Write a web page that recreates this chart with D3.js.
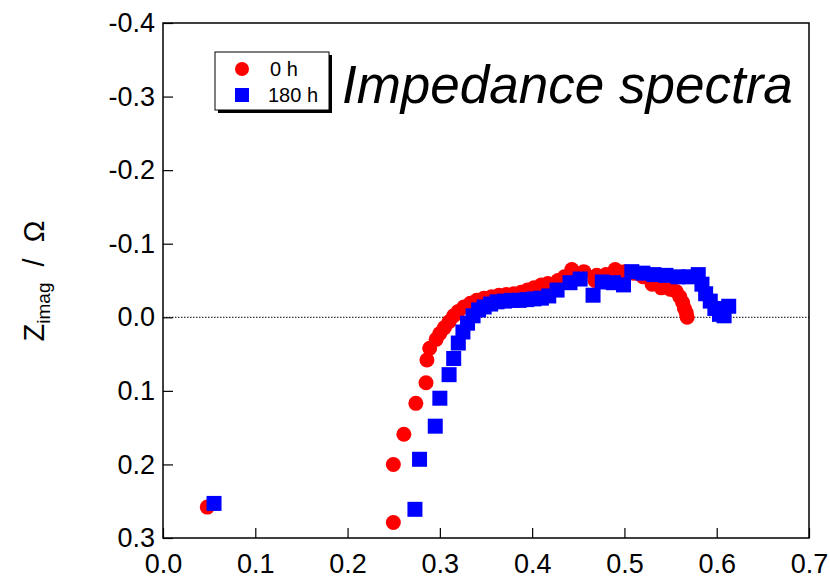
<!DOCTYPE html>
<html>
<head>
<meta charset="utf-8">
<script src="https://cdn.jsdelivr.net/npm/d3@7"></script>
<style>
  html, body { margin: 0; padding: 0; background: #fff; }
  svg { display: block; }
  text { font-family: "Liberation Sans", Arial, Helvetica, sans-serif; }
</style>
</head>
<body>
<svg id="chart" width="830" height="579"></svg>
<script>
// Impedance spectra (Nyquist plot) at 0 h and 180 h.
// Each point: [Z_real (Ω), Z_imag (Ω)] — the y axis runs from -0.4 (top) to 0.3 (bottom).
const seriesNames = ["0 h", "180 h"];

const data0h = [
  [0.048, 0.258], [0.2496, 0.279], [0.2496, 0.200], [0.261, 0.159],
  [0.274, 0.117], [0.285, 0.089], [0.286, 0.058], [0.289, 0.042],
  [0.296, 0.030], [0.300, 0.022], [0.305, 0.014], [0.310, 0.006],
  [0.315, -0.002], [0.320, -0.008], [0.326, -0.014], [0.333, -0.019],
  [0.340, -0.023], [0.348, -0.026], [0.356, -0.028], [0.364, -0.030],
  [0.372, -0.031], [0.380, -0.032], [0.388, -0.034], [0.395, -0.037],
  [0.402, -0.040], [0.410, -0.044], [0.417, -0.046], [0.428, -0.050],
  [0.435, -0.055], [0.443, -0.065], [0.456, -0.062], [0.470, -0.057],
  [0.468, -0.050], [0.480, -0.058], [0.490, -0.065], [0.500, -0.062],
  [0.510, -0.060], [0.520, -0.055], [0.530, -0.045], [0.540, -0.040],
  [0.550, -0.038], [0.556, -0.035], [0.560, -0.028], [0.563, -0.020],
  [0.565, -0.012], [0.567, -0.006], [0.568, 0.000]
];

const data180h = [
  [0.0553, 0.253], [0.273, 0.261], [0.278, 0.193], [0.295, 0.148],
  [0.300, 0.110], [0.310, 0.078], [0.315, 0.056], [0.320, 0.035],
  [0.325, 0.020], [0.330, 0.008], [0.336, -0.002], [0.342, -0.010],
  [0.348, -0.014], [0.355, -0.018], [0.362, -0.021], [0.370, -0.022],
  [0.378, -0.023], [0.386, -0.023], [0.394, -0.024], [0.402, -0.025],
  [0.410, -0.026], [0.418, -0.029], [0.427, -0.037], [0.441, -0.047],
  [0.452, -0.052], [0.466, -0.030], [0.476, -0.048], [0.488, -0.047],
  [0.499, -0.044], [0.508, -0.062], [0.520, -0.060], [0.532, -0.058],
  [0.545, -0.057], [0.558, -0.055], [0.570, -0.055], [0.580, -0.058],
  [0.584, -0.045], [0.588, -0.032], [0.593, -0.022], [0.598, -0.012],
  [0.603, -0.004], [0.608, -0.002], [0.613, -0.015]
];

const xTicks = [0.0, 0.1, 0.2, 0.3, 0.4, 0.5, 0.6, 0.7];
const yTicks = [-0.4, -0.3, -0.2, -0.1, 0.0, 0.1, 0.2, 0.3];

const svg = d3.select("#chart");
const W = 830, H = 579;
const margin = { left: 163, top: 23, right: 21, bottom: 41 };

const x = d3.scaleLinear().domain([0, 0.7]).range([margin.left, W - margin.right]);
const y = d3.scaleLinear().domain([-0.4, 0.3]).range([margin.top, H - margin.bottom]);

const fmt = d3.formatLocale({ decimal: ".", thousands: ",", grouping: [3], currency: ["", ""], minus: "-" }).format(".1f");

// zero reference line (dotted)
svg.append("line")
  .attr("x1", x(0)).attr("x2", x(0.7))
  .attr("y1", y(0)).attr("y2", y(0))
  .attr("stroke", "#000").attr("stroke-width", 1)
  .attr("stroke-dasharray", "1.5,1.5");

// axes with inward ticks
const yAxis = d3.axisLeft(y).tickValues(yTicks).tickFormat(fmt)
  .tickSizeInner(-10).tickSizeOuter(0).tickPadding(8);
const xAxis = d3.axisBottom(x).tickValues(xTicks).tickFormat(fmt)
  .tickSizeInner(-10).tickSizeOuter(0).tickPadding(16);

const gy = svg.append("g").attr("transform", `translate(${margin.left},0)`).call(yAxis);
const gx = svg.append("g").attr("transform", `translate(0,${H - margin.bottom})`).call(xAxis);
[gx, gy].forEach(g => {
  g.select(".domain").remove();
  g.selectAll(".tick line").attr("stroke", "#000").attr("stroke-width", 1.2);
  g.selectAll(".tick text").attr("font-size", 27).attr("fill", "#000")
    .attr("font-family", "'Liberation Sans', Arial, sans-serif");
});

// plot frame
svg.append("rect")
  .attr("x", x(0)).attr("y", y(-0.4))
  .attr("width", x(0.7) - x(0)).attr("height", y(0.3) - y(-0.4))
  .attr("fill", "none").attr("stroke", "#000").attr("stroke-width", 1.5);

// data markers
const size = 15;
svg.append("g").selectAll("circle").data(data0h).join("circle")
  .attr("cx", d => x(d[0])).attr("cy", d => y(d[1]))
  .attr("r", size / 2).attr("fill", "#ff0000");

svg.append("g").selectAll("rect").data(data180h).join("rect")
  .attr("x", d => x(d[0]) - size / 2).attr("y", d => y(d[1]) - size / 2)
  .attr("width", size).attr("height", size).attr("fill", "#0000ff");

// y axis title: Z_imag / Ω
const yt = svg.append("text")
  .attr("transform", "translate(44,281) rotate(-90)")
  .attr("text-anchor", "middle").attr("font-size", 29).attr("fill", "#000");
yt.append("tspan").text("Z");
yt.append("tspan").attr("font-size", 19).attr("dy", 6).text("imag");
yt.append("tspan").attr("dy", -6).attr("xml:space", "preserve").text("\u00a0\u00a0/\u00a0\u00a0Ω");

// legend with drop shadow
const lg = svg.append("g");
const lx = 215, ly = 52, lw = 114, lh = 58;
lg.append("rect").attr("x", lx + 3).attr("y", ly + 3).attr("width", lw).attr("height", lh).attr("fill", "#000");
lg.append("rect").attr("x", lx).attr("y", ly).attr("width", lw).attr("height", lh)
  .attr("fill", "#fff").attr("stroke", "#000").attr("stroke-width", 1);
lg.append("circle").attr("cx", lx + 27).attr("cy", ly + 17).attr("r", 7).attr("fill", "#ff0000");
lg.append("rect").attr("x", lx + 20).attr("y", ly + 36).attr("width", 14).attr("height", 14).attr("fill", "#0000ff");
lg.append("text").attr("x", lx + 55).attr("y", ly + 24).attr("font-size", 20).text(seriesNames[0]);
lg.append("text").attr("x", lx + 53).attr("y", ly + 50).attr("font-size", 20).text(seriesNames[1]);

// chart title
svg.append("text")
  .attr("x", 342).attr("y", 103)
  .attr("font-size", 53).attr("font-style", "italic").attr("fill", "#000")
  .text("Impedance spectra");
</script>
</body>
</html>
